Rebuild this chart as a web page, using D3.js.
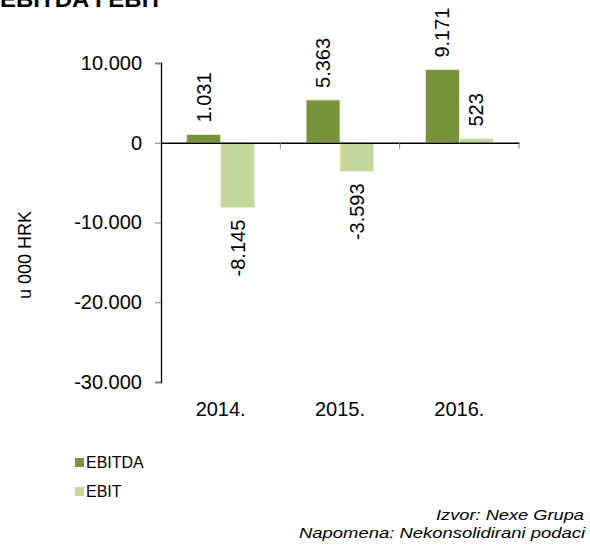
<!DOCTYPE html>
<html>
<head>
<meta charset="utf-8">
<script src="https://cdn.jsdelivr.net/npm/d3@7"></script>
<style>
  body { margin: 0; background: #fff; }
  text { font-family: "Liberation Sans", Arial, sans-serif; fill: #000; }
</style>
</head>
<body>
<div id="chart"></div>
<script>
// the data (u 000 HRK)
const years = ["2014.", "2015.", "2016."];
const ebitda = [1031, 5363, 9171];
const ebit = [-8145, -3593, 523];
const seriesNames = ["EBITDA", "EBIT"];
const yTicks = [10000, 0, -10000, -20000, -30000];

const colors = { EBITDA: "#77933c", EBIT: "#c3d69b" };

// croatian number format, dot as thousands separator
const fmt = v => d3.format(",")(v).replace(/,/g, ".").replace("−", "-");

const width = 590, height = 545;

const svg = d3.select("#chart")
  .append("svg")
  .attr("width", width)
  .attr("height", height);

// scales
const x = d3.scaleBand()
  .domain(years)
  .range([161, 519])
  .padding(0);

const x1 = d3.scaleBand()
  .domain(seriesNames)
  .range([0, x.bandwidth()])
  .paddingInner(0)
  .paddingOuter(0.76);

const y = d3.scaleLinear()
  .domain([-30000, 10000])
  .range([382, 63]);

// rows for the grouped bars
const rows = [];
years.forEach((yr, i) => {
  rows.push({ year: yr, key: "EBITDA", value: ebitda[i] });
  rows.push({ year: yr, key: "EBIT", value: ebit[i] });
});

// title, cut at the top of the picture like the original
svg.append("text")
  .attr("x", 0)
  .attr("y", 7)
  .attr("textLength", 163)
  .attr("lengthAdjust", "spacingAndGlyphs")
  .style("font-size", "22px")
  .style("font-weight", "bold")
  .text("EBITDA I EBIT");

// bars
svg.selectAll(".bar")
  .data(rows)
  .enter().append("rect")
  .attr("class", "bar")
  .attr("x", d => x(d.year) + x1(d.key))
  .attr("y", d => y(Math.max(0, d.value)))
  .attr("width", x1.bandwidth())
  .attr("height", d => Math.abs(y(d.value) - y(0)))
  .attr("fill", d => colors[d.key])
  .attr("stroke", "#eef3e2")
  .attr("stroke-width", 0.7);

// y axis
const yAxis = svg.append("g")
  .attr("transform", "translate(161,0)")
  .call(d3.axisLeft(y).tickValues(yTicks).tickSize(6).tickPadding(13).tickFormat(fmt));
yAxis.select(".domain").attr("stroke", "#000").attr("stroke-width", 1.3);
yAxis.selectAll(".tick line").attr("stroke", "#808080");
yAxis.selectAll(".tick text").style("font-size", "20px");

// x axis sits on the zero line, ticks between the categories
const xAxis = svg.append("g")
  .attr("transform", `translate(0,${y(0)})`)
  .call(d3.axisBottom(x).tickSize(0).tickFormat(""));
xAxis.select(".domain").attr("stroke", "#000").attr("stroke-width", 1.3);

svg.selectAll(".xtick")
  .data(years)
  .enter().append("line")
  .attr("class", "xtick")
  .attr("x1", d => x(d) + x.bandwidth())
  .attr("x2", d => x(d) + x.bandwidth())
  .attr("y1", y(0))
  .attr("y2", y(0) + 6)
  .attr("stroke", "#808080");

// category labels below the plot
svg.selectAll(".cat")
  .data(years)
  .enter().append("text")
  .attr("class", "cat")
  .attr("x", d => x(d) + x.bandwidth() / 2)
  .attr("y", 416)
  .attr("text-anchor", "middle")
  .style("font-size", "20px")
  .text(d => d);

// data labels, rotated, outside the bar end
svg.selectAll(".lbl")
  .data(rows)
  .enter().append("text")
  .attr("class", "lbl")
  .attr("transform", d => {
    const cx = x(d.year) + x1(d.key) + x1.bandwidth() / 2;
    const cy = d.value >= 0 ? y(d.value) - 12 : y(d.value) + 12;
    return `translate(${cx},${cy}) rotate(-90)`;
  })
  .attr("text-anchor", d => d.value >= 0 ? "start" : "end")
  .attr("dy", "0.35em")
  .style("font-size", "20px")
  .text(d => fmt(d.value));

// y axis title
svg.append("text")
  .attr("transform", "translate(31,255) rotate(-90)")
  .attr("text-anchor", "middle")
  .style("font-size", "18px")
  .text("u 000 HRK");

// legend
const legend = svg.selectAll(".legend")
  .data(seriesNames)
  .enter().append("g")
  .attr("class", "legend")
  .attr("transform", (d, i) => `translate(75,${468 + i * 29})`);

legend.append("rect")
  .attr("x", 0)
  .attr("y", -10)
  .attr("width", 9)
  .attr("height", 9)
  .attr("fill", d => colors[d]);

legend.append("text")
  .attr("x", 11)
  .attr("y", 0)
  .style("font-size", "16px")
  .text(d => d);

// source notes
svg.append("text")
  .attr("x", 584)
  .attr("y", 520)
  .attr("text-anchor", "end")
  .attr("textLength", 148)
  .attr("lengthAdjust", "spacingAndGlyphs")
  .style("font-size", "15.5px")
  .style("font-style", "italic")
  .text("Izvor: Nexe Grupa");

svg.append("text")
  .attr("x", 585)
  .attr("y", 538)
  .attr("text-anchor", "end")
  .attr("textLength", 286)
  .attr("lengthAdjust", "spacingAndGlyphs")
  .style("font-size", "15.5px")
  .style("font-style", "italic")
  .text("Napomena: Nekonsolidirani podaci");
</script>
</body>
</html>
